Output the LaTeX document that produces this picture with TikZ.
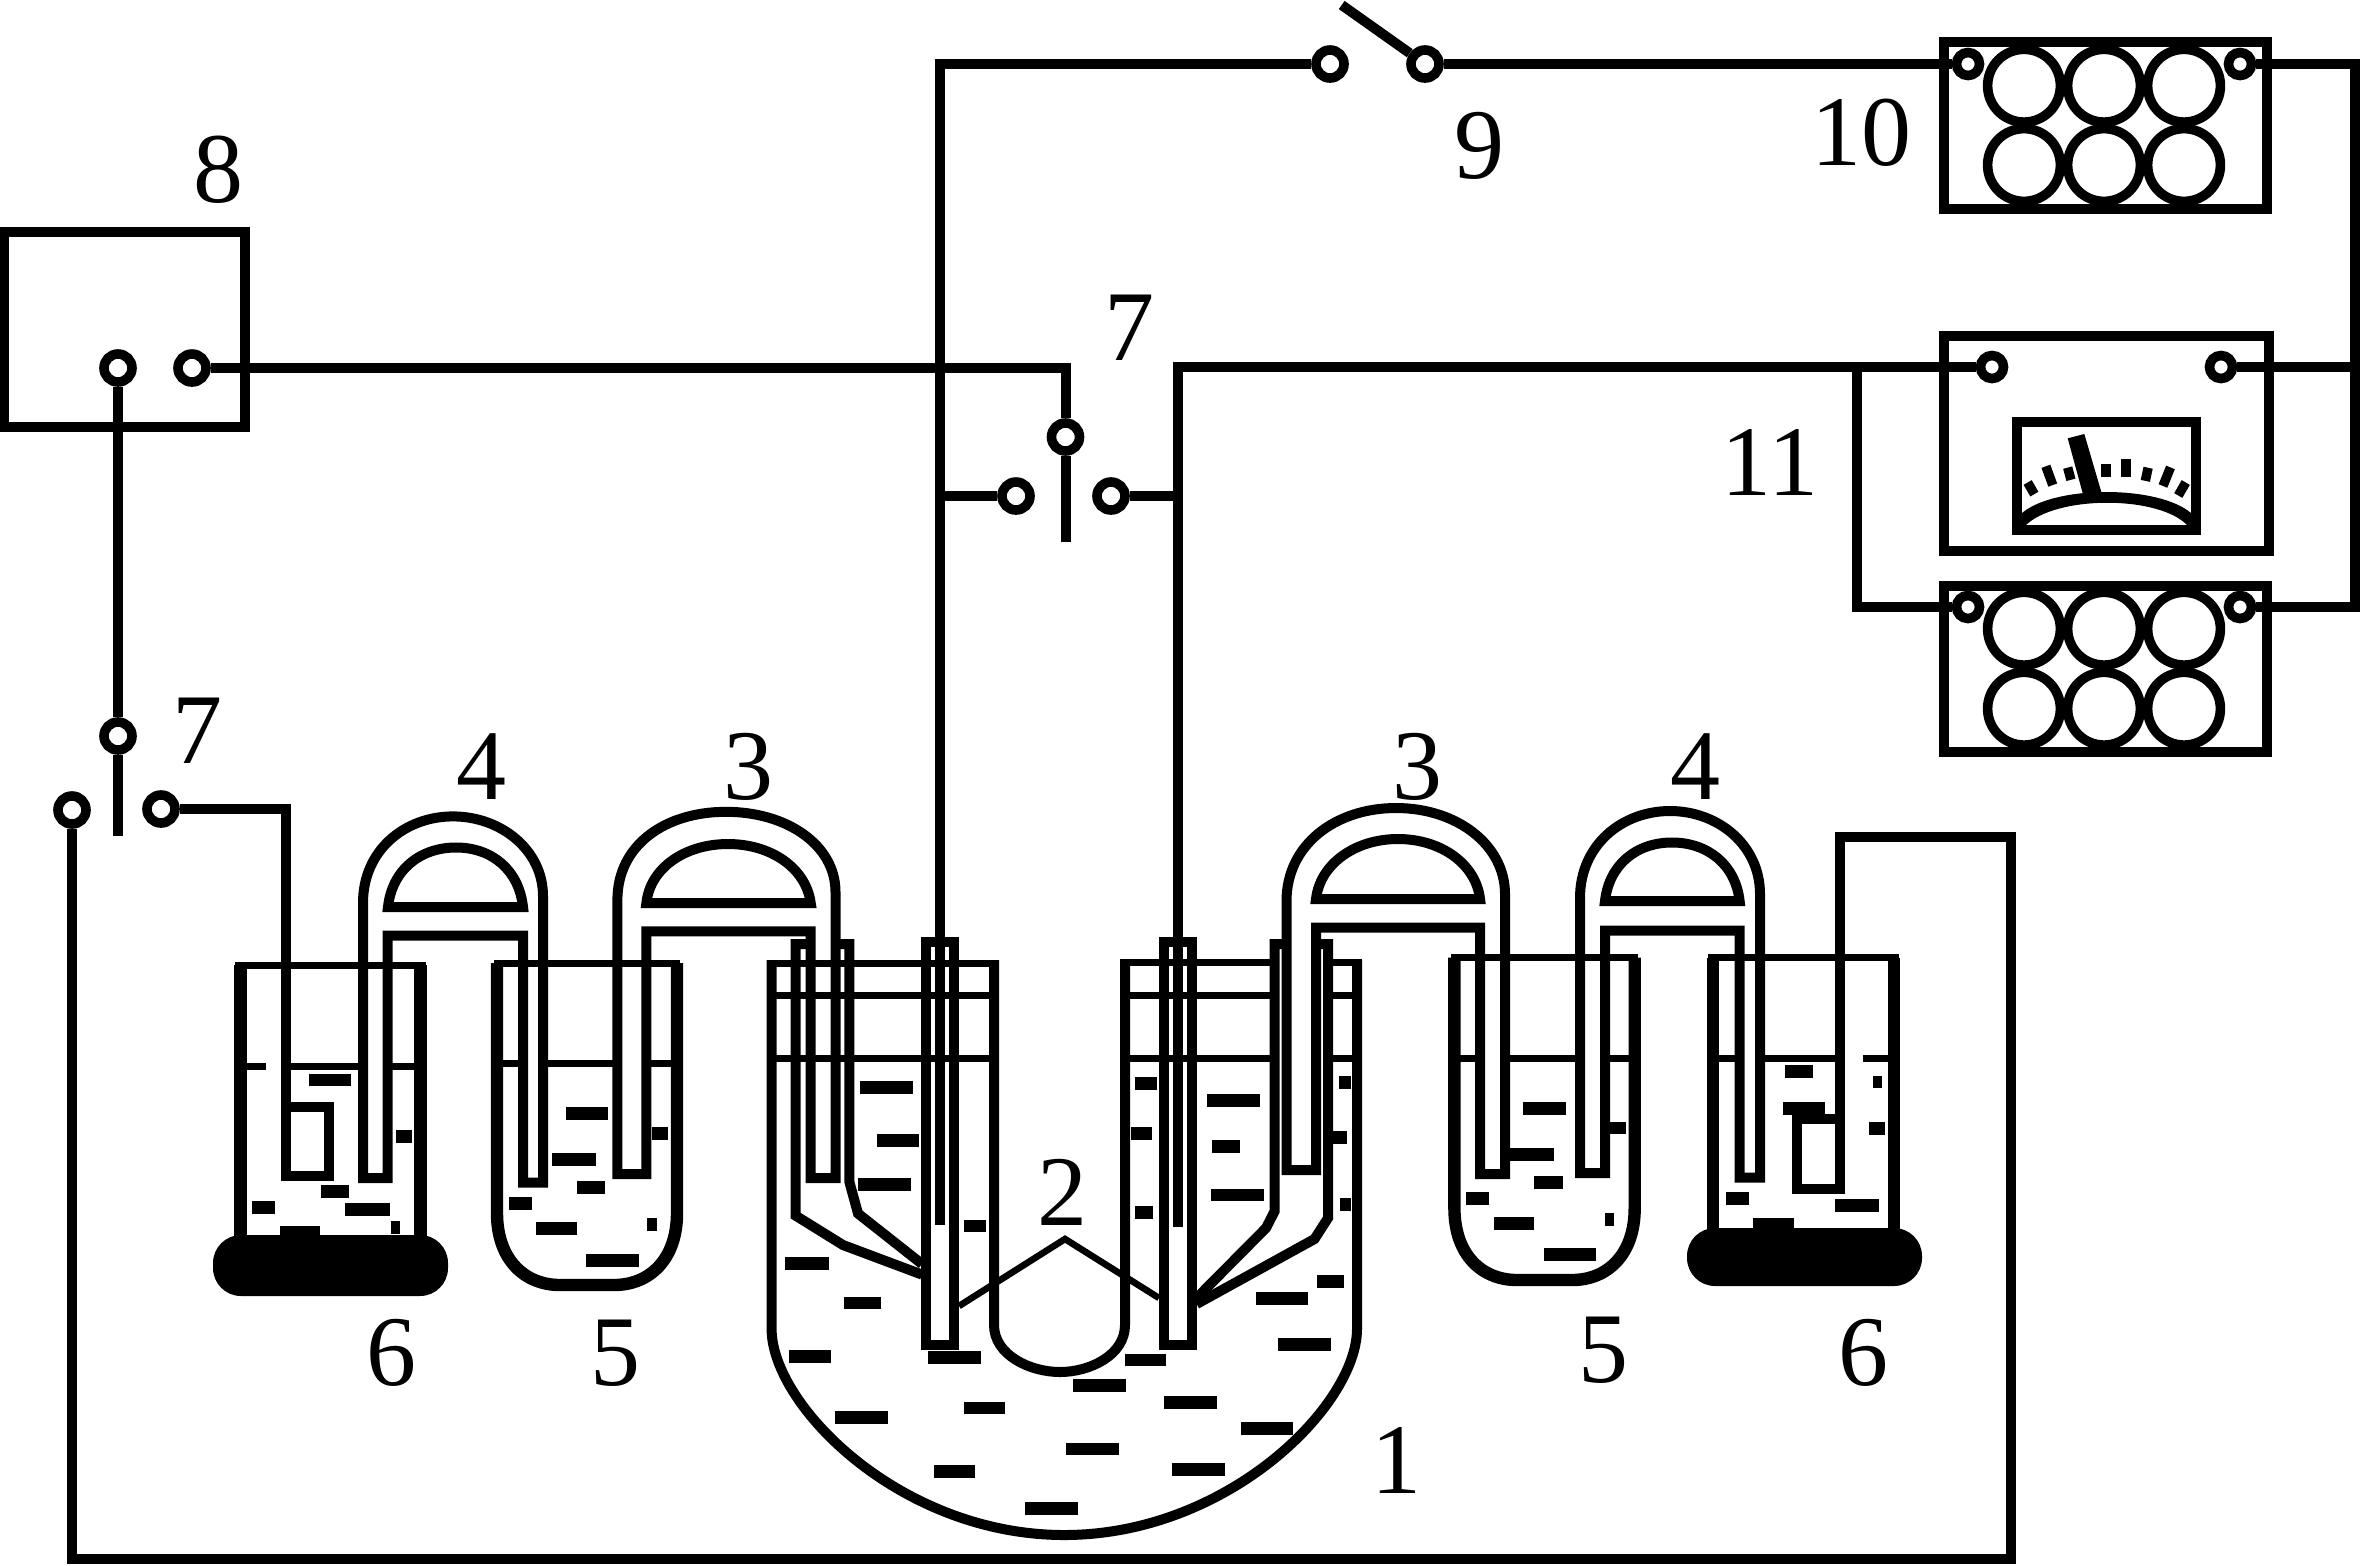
\documentclass[tikz,border=0pt]{standalone}
\usepackage{fontspec}
\setmainfont{Liberation Serif}
\tikzset{
  wire/.style={line width=5pt},
  tube/.style={line width=5pt},
  wall/.style={line width=6.2pt},
  rim/.style={line width=3.5pt},
  term/.style={circle,draw,fill=white,line width=4.8pt,minimum size=14pt,inner sep=0pt},
  termsmall/.style={circle,draw,fill=white,line width=4.8pt,minimum size=11.5pt,inner sep=0pt},
  lbl/.style={inner sep=0pt,font=\fontsize{50}{50}\selectfont},
}
\begin{document}
\begin{tikzpicture}[x=0.5pt,y=0.5pt,yscale=-1,xscale=1]
  \useasboundingbox (0,0) rectangle (2360,1565);

  %Free wire ends and corners
  \coordinate (armNine) at (1341.7,5);
  \coordinate (stubMid) at (1065.5,541.7);
  \coordinate (stubLeft) at (118,835.7);
  \coordinate (jointLeft) at (940,496);
  \coordinate (jointRight) at (1178,496);
  \coordinate (endLeft) at (940,1225);
  \coordinate (endRight) at (1178,1227);
  \coordinate (cornerTop) at (2355,64);
  \coordinate (jointMeter) at (2355,367);
  \coordinate (cornerLow) at (2355,607);
  \coordinate (jointBranch) at (1857,367);
  \coordinate (cornerBranch) at (1857,607);
  \coordinate (cornerBL) at (72,1559);
  \coordinate (cornerBR) at (2011,1559);
  \coordinate (cornerTR) at (2011,837);
  \coordinate (plateRight) at (1840,837);
  \coordinate (plateRightEnd) at (1840,1119);
  \coordinate (plateLeft) at (286,1107);

  %Black bases
  \fill [rounded corners=14pt] (213,1235) rectangle (448,1296);
  \fill [rounded corners=14pt] (1687,1228) rectangle (1922,1286);
  \fill (1753,1217.5) rectangle (1794,1232);

  %Box 8
  \draw [wire] (4,232) rectangle (245,426.7);

  %Battery boxes
  \draw [wire] (1943.6,42.3) rectangle (2267,209);
  \draw [wire] (1944,586) rectangle (2266.7,752);
  \foreach \cx in {2024,2104,2184} {
    \foreach \cy in {85.7,165,628.7,708.7} {
      \draw [line width=4.8pt] (\cx,\cy) circle [radius=36.4];
    }
  }

  %Meter
  \draw [wire] (1944,335.7) rectangle (2269,550.7);
  \draw [wire] (2017,422) rectangle (2196,530);
  \fill (2022,513) .. controls (2055,485) and (2158,485) .. (2191,513) -- (2191,526) -- (2188,526) .. controls (2160,495) and (2055,495) .. (2025,526) -- (2022,526) -- cycle;
  \fill (2067.7,438.3) -- (2084.3,434) -- (2101.7,493.3) -- (2082.7,493.3) -- cycle;
  \fill [rotate around={-30:(2031,488.3)}] (2026.3,481.6) rectangle (2035.7,495);
  \fill [rotate around={-20:(2049.3,475.7)}] (2044.6,465.7) rectangle (2054,485.7);
  \fill [rotate around={-15:(2069.3,473.7)}] (2064.6,467.4) rectangle (2074,480);
  \fill (2101,464) rectangle (2111,477);
  \fill (2121,459) rectangle (2131,477);
  \fill [rotate around={12:(2146.7,474.3)}] (2142,467.6) rectangle (2151.4,481);
  \fill [rotate around={22:(2166.7,476.7)}] (2162,466.7) rectangle (2171.4,486.7);
  \fill [rotate around={30:(2182,489)}] (2177.3,481.5) rectangle (2186.7,496.5);

  %Terminals
  \node (powerA) [term] at (118,368) {};
  \node (powerB) [term] at (192,368) {};
  \node (pivotLeft) [term] at (118,736) {};
  \node (contactLL) [term] at (72,810) {};
  \node (contactLR) [term] at (161,809) {};
  \node (pivotMid) [term] at (1065.5,437) {};
  \node (contactML) [term] at (1016,496) {};
  \node (contactMR) [term] at (1111,496) {};
  \node (nineA) [term] at (1330,64) {};
  \node (nineB) [term] at (1425,64) {};
  \node (batTopL) [termsmall] at (1968,64) {};
  \node (batTopR) [termsmall] at (2240,64) {};
  \node (meterL) [termsmall] at (1992,367) {};
  \node (meterR) [termsmall] at (2221,367) {};
  \node (batLowL) [termsmall] at (1968,607) {};
  \node (batLowR) [termsmall] at (2240,607) {};

  %Left beaker 6
  \draw [wall] (240.5,965) -- (240.5,1240);
  \draw [wall] (420.5,965) -- (420.5,1240);
  \draw [rim] (235,965.4) -- (426,965.4);
  \draw [rim] (246,1066.4) -- (266,1066.4);
  \draw [rim] (291,1066.4) -- (363,1066.4);
  \draw [rim] (387.5,1066.4) -- (415,1066.4);
  \draw [wire] (286,1107) rectangle (329,1176);

  %Left beaker 5
  \draw [wall] (497,963) -- (497,1213) .. controls (497,1260) and (525,1285) .. (560,1285) -- (614,1285) .. controls (649,1285) and (677,1260) .. (677,1213) -- (677,963);
  \draw [rim] (494,963) -- (680,963);
  \draw [rim] (497,1063.6) -- (523,1063.6);
  \draw [rim] (543,1063.6) -- (617.4,1063.6);
  \draw [rim] (646.4,1063.6) -- (677,1063.6);

  %Right beaker 5
  \draw [wall] (1454.4,957.5) -- (1454.4,1208) .. controls (1454.4,1255) and (1482,1280) .. (1517,1280) -- (1572,1280) .. controls (1607,1280) and (1634.7,1255) .. (1634.7,1208) -- (1634.7,957.5);
  \draw [rim] (1451,957.5) -- (1638,957.5);
  \draw [rim] (1454.4,1058.6) -- (1480,1058.6);
  \draw [rim] (1505,1058.6) -- (1580,1058.6);
  \draw [rim] (1605,1058.6) -- (1634.7,1058.6);

  %Right beaker 6
  \draw [wall] (1713,957.5) -- (1713,1232);
  \draw [wall] (1894,957.5) -- (1894,1232);
  \draw [rim] (1708,957.5) -- (1899,957.5);
  \draw [rim] (1713,1058.6) -- (1739.6,1058.6);
  \draw [rim] (1760,1058.6) -- (1840,1058.6);
  \draw [rim] (1863,1058.6) -- (1888,1058.6);
  \draw [wire] (1797,1119) rectangle (1840,1189);

  %Big vessel
  \draw [tube] (771.6,960) -- (771.6,1329) .. controls (771.6,1405) and (900,1535) .. (1064.3,1535) .. controls (1228,1535) and (1357,1405) .. (1357,1329) -- (1357,960);
  \draw [tube] (994,960) -- (994,1325) .. controls (994,1355) and (1030,1372) .. (1060,1372) .. controls (1090,1372) and (1125,1355) .. (1125,1325) -- (1125,960);
  \draw [rim] (767,963) -- (998.6,963);
  \draw [rim] (771.6,995) -- (994,995);
  \draw [rim] (771.6,1058) -- (994,1058);
  \draw [rim] (1120.4,962) -- (1274.5,962);
  \draw [rim] (1125,995) -- (1274.5,995);
  \draw [rim] (1125,1058) -- (1274.5,1058);
  \draw [rim] (1328,962) -- (1361.6,962);
  \draw [rim] (1328,995) -- (1357,995);
  \draw [rim] (1328,1058) -- (1357,1058);

  %Cone shaped cups
  \draw [tube] (811,944) -- (795.6,944) -- (795.6,1215.6) -- (843,1245) -- (922,1274.6);
  \draw [tube] (835.5,944) -- (849.4,944) -- (849.4,1182) -- (858,1213.5) -- (922,1264);
  \draw [tube] (1286,944) -- (1274.5,944) -- (1274.5,1211.4) -- (1266,1228) -- (1196.6,1298);
  \draw [tube] (1316.6,944) -- (1328,944) -- (1328,1218) -- (1314.5,1239) -- (1196.6,1304);

  %Electrode tubes
  \draw [tube] (926,942) rectangle (954,1345);
  \draw [tube] (1164,942) rectangle (1192.4,1345);
  \draw [line width=3.3pt] (959,1306) -- (1065,1239) -- (1159,1298);

  %Salt bridges
  \draw [tube] (387.5,1178) -- (363,1178) -- (363,903) .. controls (363,850) and (405,816.4) .. (453,816.4) .. controls (501,816.4) and (543,850) .. (543,896) -- (543,1182.5) -- (523,1182.5) -- (523,935.7) -- (387.5,935.7) -- cycle;
  \draw [tube] (388,907) .. controls (392,870) and (420,847.5) .. (456,847.5) .. controls (492,847.5) and (519,870) .. (523,907) -- cycle;
  \draw [tube] (646.4,1174) -- (617.4,1174) -- (617.4,900) .. controls (617.4,845) and (665,811.8) .. (726,811.8) .. controls (787,811.8) and (835.5,845) .. (835.5,892) -- (835.5,1178) -- (810.7,1178) -- (810.7,931.4) -- (646.4,931.4) -- cycle;
  \draw [tube] (646.4,903) .. controls (650,868) and (685,844) .. (728,844) .. controls (771,844) and (806,868) .. (810.7,903) -- cycle;
  \draw [tube] (1316,1170) -- (1286.5,1170) -- (1286.5,901) .. controls (1286.5,845) and (1335,808) .. (1396,808) .. controls (1457,808) and (1505,845) .. (1505,894) -- (1505,1174) -- (1480,1174) -- (1480,927.5) -- (1316,927.5) -- cycle;
  \draw [tube] (1316,899) .. controls (1320,864) and (1355,839) .. (1398,839) .. controls (1441,839) and (1476,864) .. (1480,899) -- cycle;
  \draw [tube] (1605,1173) -- (1580,1173) -- (1580,898) .. controls (1580,845) and (1622,811) .. (1670,811) .. controls (1718,811) and (1760,845) .. (1760,894) -- (1760,1177.5) -- (1739.6,1177.5) -- (1739.6,930.7) -- (1605,930.7) -- cycle;
  \draw [tube] (1605,901) .. controls (1609,865) and (1636,842.5) .. (1672,842.5) .. controls (1708,842.5) and (1735.6,865) .. (1739.6,901) -- cycle;

  %Wires
  \draw [wire] (powerB) -| (pivotMid);
  \draw [wire] (powerA) -- (pivotLeft);
  \draw [wire] (pivotLeft) -- (stubLeft);
  \draw [wire] (pivotMid) -- (stubMid);
  \draw [wire] (contactML) -- (jointLeft);
  \draw [wire] (contactMR) -- (jointRight);
  \draw [wire] (nineA) -| (endLeft);
  \draw [wire] (nineB) -- (armNine);
  \draw [wire] (nineB) -- (batTopL);
  \draw [wire] (batTopR) -- (cornerTop) -- (cornerLow) -- (batLowR);
  \draw [wire] (meterR) -- (jointMeter);
  \draw [wire] (meterL) -| (endRight);
  \draw [wire] (jointBranch) -- (cornerBranch) -- (batLowL);
  \draw [wire] (contactLR) -| (plateLeft);
  \draw [wire] (contactLL) -- (cornerBL) -- (cornerBR) -- (cornerTR) -- (plateRight) -- (plateRightEnd);

  %Liquid marks, left beaker 6
  \fill (309,1073.6) rectangle (351,1086);
  \fill (396,1130) rectangle (412,1143);
  \fill (321,1185) rectangle (349,1197.5);
  \fill (252,1201) rectangle (275,1213.6);
  \fill (345,1203) rectangle (390,1216);
  \fill (280,1226) rectangle (320,1238);
  \fill (391,1221) rectangle (400,1234);
  %Liquid marks, left beaker 5
  \fill (566,1107) rectangle (608,1120);
  \fill (652,1127) rectangle (668,1140);
  \fill (552,1153) rectangle (596,1166);
  \fill (577,1181) rectangle (605,1194);
  \fill (509,1197) rectangle (532,1210);
  \fill (536,1222) rectangle (577,1235);
  \fill (647,1218) rectangle (657,1231);
  \fill (586,1254) rectangle (639,1267);
  %Liquid marks, big vessel
  \fill (860,1081) rectangle (913,1094);
  \fill (877,1134) rectangle (919,1147);
  \fill (858,1178) rectangle (911,1191);
  \fill (964,1220) rectangle (986,1232);
  \fill (785,1257) rectangle (829,1270);
  \fill (844,1296.5) rectangle (881,1309);
  \fill (789,1350) rectangle (831,1363);
  \fill (928,1351) rectangle (981,1364);
  \fill (835,1411) rectangle (888,1424);
  \fill (964,1402) rectangle (1005,1414);
  \fill (934,1465) rectangle (975,1478);
  \fill (1025,1502) rectangle (1078,1515);
  \fill (1066,1443) rectangle (1119,1455);
  \fill (1073,1379) rectangle (1126,1392);
  \fill (1125,1354) rectangle (1166,1366);
  \fill (1164,1396) rectangle (1217,1409);
  \fill (1172,1463) rectangle (1225,1476);
  \fill (1241,1422) rectangle (1293,1435);
  \fill (1278,1338) rectangle (1331,1351);
  \fill (1256,1292) rectangle (1308,1305);
  \fill (1317,1275) rectangle (1344,1288);
  \fill (1135,1077) rectangle (1157,1090);
  \fill (1131,1127) rectangle (1152,1140);
  \fill (1135,1206) rectangle (1153,1219);
  \fill (1207,1094) rectangle (1260,1107);
  \fill (1212,1140) rectangle (1240,1153);
  \fill (1211,1189) rectangle (1264,1201);
  \fill (1339,1076) rectangle (1351,1089);
  \fill (1333,1131) rectangle (1347,1144);
  \fill (1340,1198) rectangle (1351,1211);
  %Liquid marks, right beaker 5
  \fill (1523,1102) rectangle (1566,1115);
  \fill (1610,1122) rectangle (1626,1134);
  \fill (1510,1148) rectangle (1554,1161);
  \fill (1534,1176) rectangle (1563,1189);
  \fill (1466,1192) rectangle (1489,1205);
  \fill (1494,1217) rectangle (1534,1230);
  \fill (1605,1212.5) rectangle (1614,1226);
  \fill (1544,1248) rectangle (1596,1261);
  %Liquid marks, right beaker 6
  \fill (1785,1065) rectangle (1813,1078);
  \fill (1783,1102) rectangle (1825,1115);
  \fill (1873,1076) rectangle (1882,1088);
  \fill (1869,1122) rectangle (1885,1135);
  \fill (1726,1192) rectangle (1749,1205);
  \fill (1835,1199) rectangle (1879,1212);

  % Text Node
  \node (labEight) [lbl] at (218,170) {8};
  \node (labSevenA) [lbl] at (1129,328) {7};
  \node (labSevenB) [lbl] at (197,731) {7};
  \node (labNine) [lbl] at (1479,146) {9};
  \node (labTen) [lbl] at (1861,133) {10};
  \node (labEleven) [lbl] at (1770,462) {11};
  \node (labFourA) [lbl] at (481.6,767) {4};
  \node (labThreeA) [lbl] at (748,767) {3};
  \node (labThreeB) [lbl] at (1417.7,767) {3};
  \node (labFourB) [lbl] at (1695,767) {4};
  \node (labTwo) [lbl] at (1062,1192.5) {2};
  \node (labSixA) [lbl] at (391,1353) {6};
  \node (labFiveA) [lbl] at (615.5,1353) {5};
  \node (labFiveB) [lbl] at (1603,1350) {5};
  \node (labSixB) [lbl] at (1863,1353) {6};
  \node (labOne) [lbl] at (1396.6,1460) {1};
\end{tikzpicture}
\end{document}
